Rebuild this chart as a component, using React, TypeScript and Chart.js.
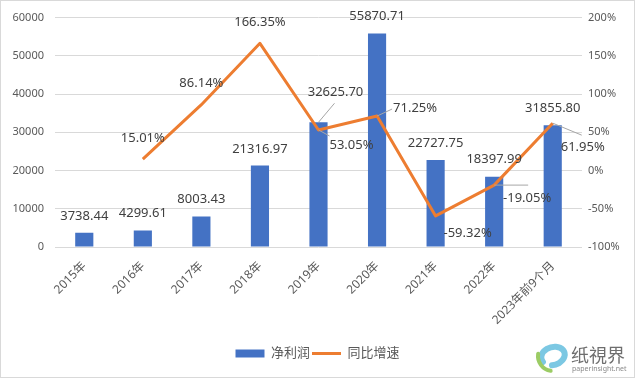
import React, { useEffect, useRef } from 'react';
import { Chart, registerables } from 'chart.js';

Chart.register(...registerables);

// ---- data ----
const categories = ['2015年', '2016年', '2017年', '2018年', '2019年', '2020年', '2021年', '2022年', '2023年前9个月'];
const netProfit = [3738.44, 4299.61, 8003.43, 21316.97, 32625.7, 55870.71, 22727.75, 18397.99, 31855.8];
const growthRate: (number | null)[] = [null, 15.01, 86.14, 166.35, 53.05, 71.25, -59.32, -19.05, 61.95];
const seriesNames = ['净利润', '同比增速'];
const leftAxis = { min: 0, max: 60000, step: 10000 };
const rightAxis = { min: -100, max: 200, step: 50 };

// ---- label placement styles (offsets relative to the mark) ----
const barLabelOffset = [[0, -16], [0, -17], [0, -17], [0, -16], [17, -30], [0, -17], [0, -17], [0, -17], [0, -17]];
const barLeader: (number[] | null)[] = [null, null, null, null, [16, -19], null, null, null, null];
const lineLabelOffset: (number[] | null)[] = [null, [0, -21], [0, -21], [0, -21], [33, 15], [38, -8], [32, 17], [33, 13], [30, 24]];
const lineLeader: (number[] | null)[] = [null, null, null, null, [11, 6], [15, -7], null, [34, 0], [29, 12]];

const FONT = '"Noto Sans", "Noto Sans CJK SC", sans-serif';
const BLUE = '#4472C4';
const ORANGE = '#ED7D31';

const framePlugin = {
  id: 'frame',
  beforeDraw(chart: any) {
    const { ctx, width, height } = chart;
    ctx.save();
    ctx.fillStyle = '#ffffff';
    ctx.fillRect(0, 0, width, height);
    ctx.restore();
  },
  afterDraw(chart: any) {
    const { ctx, width, height } = chart;
    ctx.save();
    ctx.strokeStyle = '#D9D9D9';
    ctx.lineWidth = 1;
    ctx.strokeRect(0.5, 0.5, width - 1, height - 1);
    // watermark logo
    ctx.lineCap = 'round';
    ctx.strokeStyle = '#7cc8e3';
    ctx.lineWidth = 6;
    ctx.beginPath();
    ctx.ellipse(553, 356, 12, 9, -0.3, Math.PI * 0.9, Math.PI * 2.6);
    ctx.stroke();
    ctx.strokeStyle = '#9ccc65';
    ctx.lineWidth = 4;
    ctx.beginPath();
    ctx.arc(553, 356, 15, Math.PI * 0.55, Math.PI * 1.05);
    ctx.stroke();
    ctx.fillStyle = '#6e6e6e';
    ctx.font = '18px "Noto Sans CJK SC", sans-serif';
    ctx.textBaseline = 'middle';
    ctx.textAlign = 'left';
    ctx.fillText('纸視界', 571, 355);
    ctx.font = '7px ' + FONT;
    ctx.fillStyle = '#8a8a8a';
    ctx.fillText('paperinsight.net', 572, 369);
    ctx.restore();
  },
};

const labelPlugin = {
  id: 'valueLabels',
  afterDatasetsDraw(chart: any) {
    const { ctx } = chart;
    ctx.save();
    ctx.font = '13px ' + FONT;
    ctx.fillStyle = '#404040';
    ctx.textAlign = 'center';
    ctx.textBaseline = 'middle';
    ctx.strokeStyle = '#A6A6A6';
    ctx.lineWidth = 1;
    const barMeta = chart.getDatasetMeta(0);
    barMeta.data.forEach((el: any, i: number) => {
      const [dx, dy] = barLabelOffset[i];
      const lead = barLeader[i];
      if (lead) {
        ctx.beginPath();
        ctx.moveTo(el.x, el.y);
        ctx.lineTo(el.x + lead[0], el.y + lead[1]);
        ctx.stroke();
      }
      ctx.fillText(netProfit[i].toFixed(2), el.x + dx, el.y + dy);
    });
    const lineMeta = chart.getDatasetMeta(1);
    lineMeta.data.forEach((el: any, i: number) => {
      const v = growthRate[i];
      const off = lineLabelOffset[i];
      if (v == null || !off) return;
      const lead = lineLeader[i];
      if (lead) {
        ctx.beginPath();
        ctx.moveTo(el.x, el.y);
        ctx.lineTo(el.x + lead[0], el.y + lead[1]);
        ctx.stroke();
      }
      ctx.fillText(v.toFixed(2) + '%', el.x + off[0], el.y + off[1]);
    });
    ctx.restore();
  },
};

export default function App() {
  const ref = useRef<HTMLCanvasElement | null>(null);
  useEffect(() => {
    document.body.style.margin = '0';
    if (!ref.current) return;
    Chart.defaults.font.family = FONT;
    const chart = new Chart(ref.current, {
      type: 'bar',
      data: {
        labels: categories,
        datasets: [
          {
            type: 'bar',
            label: seriesNames[0],
            data: netProfit,
            backgroundColor: BLUE,
            borderWidth: 0,
            yAxisID: 'y',
            categoryPercentage: 1,
            barPercentage: 0.31,
            order: 1,
          } as any,
          {
            type: 'line',
            label: seriesNames[1],
            data: growthRate,
            borderColor: ORANGE,
            backgroundColor: ORANGE,
            borderWidth: 3,
            pointRadius: 0,
            tension: 0,
            spanGaps: false,
            borderJoinStyle: 'round',
            yAxisID: 'y1',
            order: 0,
          } as any,
        ],
      },
      options: {
        animation: false,
        responsive: false,
        layout: { padding: { top: 17, left: 0, right: 0, bottom: 8 } },
        plugins: {
          tooltip: { enabled: false },
          legend: {
            position: 'bottom',
            labels: {
              usePointStyle: true,
              pointStyleWidth: 29,
              boxHeight: 8,
              padding: 2,
              color: '#595959',
              font: { size: 13, family: FONT },
              sort: (a: any, b: any) => a.datasetIndex - b.datasetIndex,
              generateLabels: (c: any) => {
                const items = (Chart.defaults.plugins.legend.labels as any).generateLabels(c);
                items.forEach((it: any) => {
                  it.pointStyle = it.datasetIndex === 0 ? 'rect' : 'line';
                  it.rotation = 0;
                  if (it.datasetIndex === 0) it.lineWidth = 0;
                });
                return items;
              },
            },
          },
        },
        scales: {
          x: {
            grid: { display: false, drawTicks: false },
            border: { display: false },
            ticks: {
              minRotation: 45,
              maxRotation: 45,
              autoSkip: false,
              padding: 12,
              color: '#595959',
              font: { size: 12, family: FONT },
            },
            afterFit: (s: any) => { s.height = 98; },
          },
          y: {
            position: 'left',
            min: leftAxis.min,
            max: leftAxis.max,
            grid: { color: '#D9D9D9', drawTicks: false, lineWidth: 1 },
            border: { display: false },
            ticks: {
              stepSize: leftAxis.step,
              padding: 11,
              color: '#595959',
              font: { size: 11, family: FONT },
              callback: (v: any) => String(v),
            },
            afterFit: (s: any) => { s.width = 55; },
          },
          y1: {
            position: 'right',
            min: rightAxis.min,
            max: rightAxis.max,
            grid: { display: false, drawTicks: false },
            border: { display: false },
            ticks: {
              stepSize: rightAxis.step,
              padding: 6,
              color: '#595959',
              font: { size: 11, family: FONT },
              callback: (v: any) => v + '%',
            },
            afterFit: (s: any) => { s.width = 53; },
          },
        },
      },
      plugins: [framePlugin, labelPlugin],
    } as any);
    return () => chart.destroy();
  }, []);
  return (
    <div style={{ position: 'absolute', left: 0, top: 0 }}>
      <canvas ref={ref} width={635} height={378} style={{ display: 'block' }} />
    </div>
  );
}
